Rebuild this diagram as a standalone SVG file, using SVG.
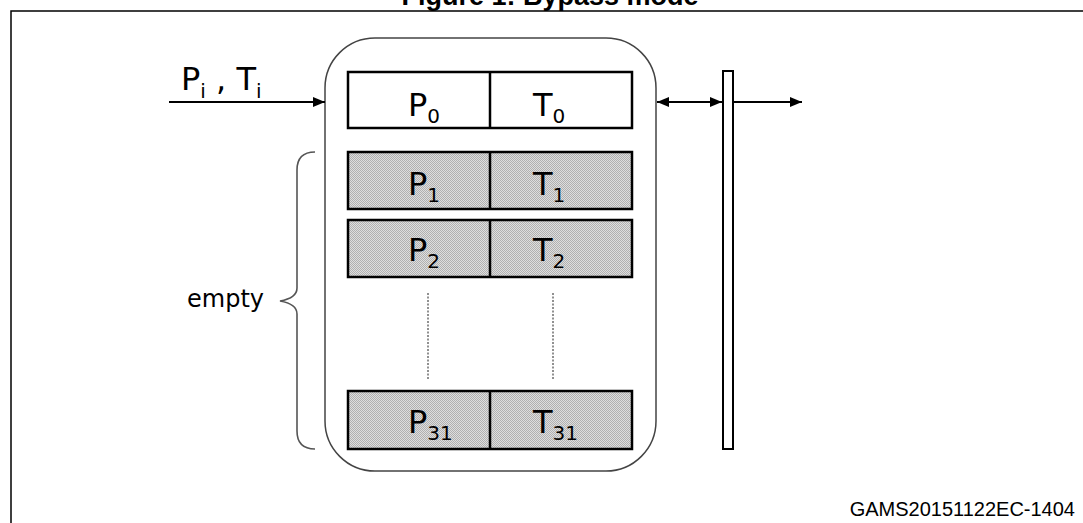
<svg xmlns="http://www.w3.org/2000/svg" width="1083" height="523" viewBox="0 0 1083 523">
<style>
.frame{fill:none;stroke:#000;stroke-width:1.5}
.cont{fill:#fff;stroke:#444;stroke-width:1.5}
.cell0{fill:#fff;stroke:#000;stroke-width:2.5}
.cell{fill:url(#dots);stroke:#000;stroke-width:2.5}
.lbl{font-family:"DejaVu Sans","Verdana",sans-serif;font-size:32px;fill:#000}
.sub{font-size:20px}
.conn{fill:none;stroke:#000;stroke-width:2}
.dash{fill:none;stroke:#222;stroke-width:1;stroke-dasharray:2,1.5}
.brace{fill:none;stroke:#555;stroke-width:1.6}
.title{font-family:"Liberation Sans",Arial,sans-serif;font-weight:bold;font-size:27px;fill:#000}
.ref{font-family:"Liberation Sans",Arial,sans-serif;font-size:20px;fill:#000}
</style>
<defs>
<pattern id="dots" width="2" height="2" patternUnits="userSpaceOnUse">
<rect width="2" height="2" fill="#dedede"/>
<rect width="1" height="1" fill="#b0b0b0"/>
<rect x="1" y="1" width="1" height="1" fill="#b0b0b0"/>
</pattern>
<marker id="ah" viewBox="0 0 12 10" markerWidth="12" markerHeight="10" refX="12" refY="5" orient="auto-start-reverse" markerUnits="userSpaceOnUse">
<path d="M0,0 L12,5 L0,10 z" fill="#000"/>
</marker>
</defs>
<rect width="1083" height="523" fill="#fff"/>
<text class="title" x="550" y="5" text-anchor="middle">Figure 1: Bypass mode</text>
<path class="frame" d="M11,523 L11,11 L1083,11"/>
<g id="fifo">
<rect class="cont" x="325" y="38" width="331" height="433" rx="50" ry="50"/>
</g>
<g id="row0">
<rect class="cell0" x="348" y="72" width="284" height="56"/>
<line x1="490" y1="72" x2="490" y2="128" stroke="#000" stroke-width="2.5"/>
<text class="lbl" x="408" y="116">P<tspan class="sub" dy="7">0</tspan></text>
<text class="lbl" x="533" y="116">T<tspan class="sub" dy="7">0</tspan></text>
</g>
<g id="row1">
<rect class="cell" x="348" y="152" width="284" height="57"/>
<line x1="490" y1="152" x2="490" y2="209" stroke="#000" stroke-width="2.5"/>
<text class="lbl" x="408" y="195">P<tspan class="sub" dy="7">1</tspan></text>
<text class="lbl" x="533" y="195">T<tspan class="sub" dy="7">1</tspan></text>
</g>
<g id="row2">
<rect class="cell" x="348" y="220" width="284" height="57"/>
<line x1="490" y1="220" x2="490" y2="277" stroke="#000" stroke-width="2.5"/>
<text class="lbl" x="408" y="261">P<tspan class="sub" dy="7">2</tspan></text>
<text class="lbl" x="533" y="261">T<tspan class="sub" dy="7">2</tspan></text>
</g>
<g id="ellipsis">
<line class="dash" x1="428" y1="293" x2="428" y2="380"/>
<line class="dash" x1="553" y1="293" x2="553" y2="380"/>
</g>
<g id="row31">
<rect class="cell" x="348" y="391" width="284" height="58"/>
<line x1="490" y1="391" x2="490" y2="449" stroke="#000" stroke-width="2.5"/>
<text class="lbl" x="408" y="433">P<tspan class="sub" dy="7">31</tspan></text>
<text class="lbl" x="533" y="433">T<tspan class="sub" dy="7">31</tspan></text>
</g>
<g id="empty">
<path class="brace" d="M315,152 Q297,152 297,170 L297,288 Q297,298 280,301 Q297,304 297,314 L297,431 Q297,449 315,449"/>
<text class="lbl" style="font-size:24px" x="264" y="307" text-anchor="end">empty</text>
</g>
<g id="register">
<rect x="723" y="71" width="10" height="378" fill="#fff" stroke="#000" stroke-width="2"/>
</g>
<g id="input">
<text class="lbl" x="181" y="90">P<tspan class="sub" dy="8">i</tspan><tspan dy="-8"> , T</tspan><tspan class="sub" dy="8">i</tspan></text>
</g>
<g id="connectors">
<line class="conn" x1="169" y1="102" x2="325" y2="102" marker-end="url(#ah)"/>
<line class="conn" x1="657" y1="102" x2="722" y2="102" marker-start="url(#ah)" marker-end="url(#ah)"/>
<line class="conn" x1="734" y1="102" x2="802" y2="102" marker-end="url(#ah)"/>
</g>
<text class="ref" x="1075" y="516" text-anchor="end">GAMS20151122EC-1404</text>
</svg>
